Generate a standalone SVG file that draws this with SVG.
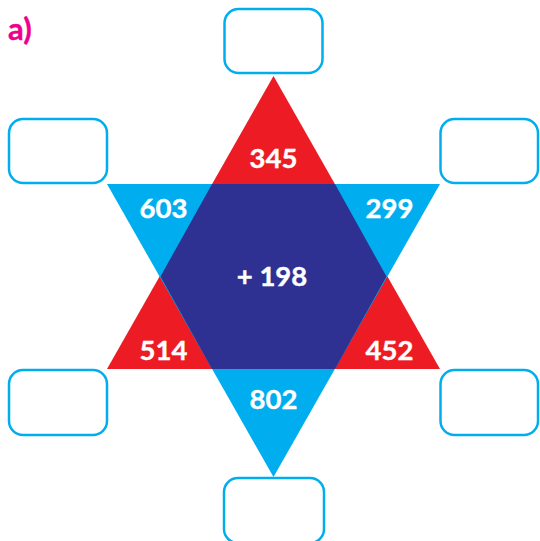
<svg xmlns="http://www.w3.org/2000/svg" width="540" height="541" viewBox="0 0 540 541">
<style>
.box{fill:#fff;stroke:#00AEEF;stroke-width:2.5}
.num{font-family:Lato,"Open Sans","Liberation Sans",sans-serif;font-weight:bold;font-size:27.5px;fill:#fff;text-anchor:middle;stroke:#fff;stroke-width:0.4}
.lbl{font-family:Lato,"Open Sans","Liberation Sans",sans-serif;font-weight:bold;font-size:31px;fill:#EC008C;stroke:#EC008C;stroke-width:0.4}
</style>
<rect width="540" height="541" fill="#fff"/>
<text class="lbl" x="8" y="40">a)</text>
<g id="star">
<polygon id="red-triangle" points="273.5,76 107,369 440,369" fill="#ED1C24"/>
<polygon id="blue-triangle" points="107,184 440,184 273.5,477" fill="#00AEEF"/>
<polygon id="hexagon" points="212,184 335,184 386.5,276.5 335,369 212,369 160.5,276.5" fill="#2E3192"/>
</g>
<g id="connectors"></g>
<g id="box-top"><rect class="box" x="224.5" y="9" width="98" height="64" rx="14"/></g>
<g id="box-top-left"><rect class="box" x="9" y="119" width="98" height="64" rx="14"/></g>
<g id="box-top-right"><rect class="box" x="440.5" y="119" width="97.5" height="64" rx="14"/></g>
<g id="box-bottom-left"><rect class="box" x="9" y="370" width="98" height="65" rx="14"/></g>
<g id="box-bottom-right"><rect class="box" x="440.5" y="370" width="97.5" height="65" rx="14"/></g>
<g id="box-bottom"><rect class="box" x="224" y="478" width="100" height="65" rx="14"/></g>
<g id="labels">
<text class="num" x="273.5" y="168">345</text>
<text class="num" x="163.5" y="218">603</text>
<text class="num" x="389.5" y="218">299</text>
<text class="num" x="272" y="286">+ 198</text>
<text class="num" x="163.5" y="360">514</text>
<text class="num" x="389.5" y="360">452</text>
<text class="num" x="273.5" y="409">802</text>
</g>
</svg>
